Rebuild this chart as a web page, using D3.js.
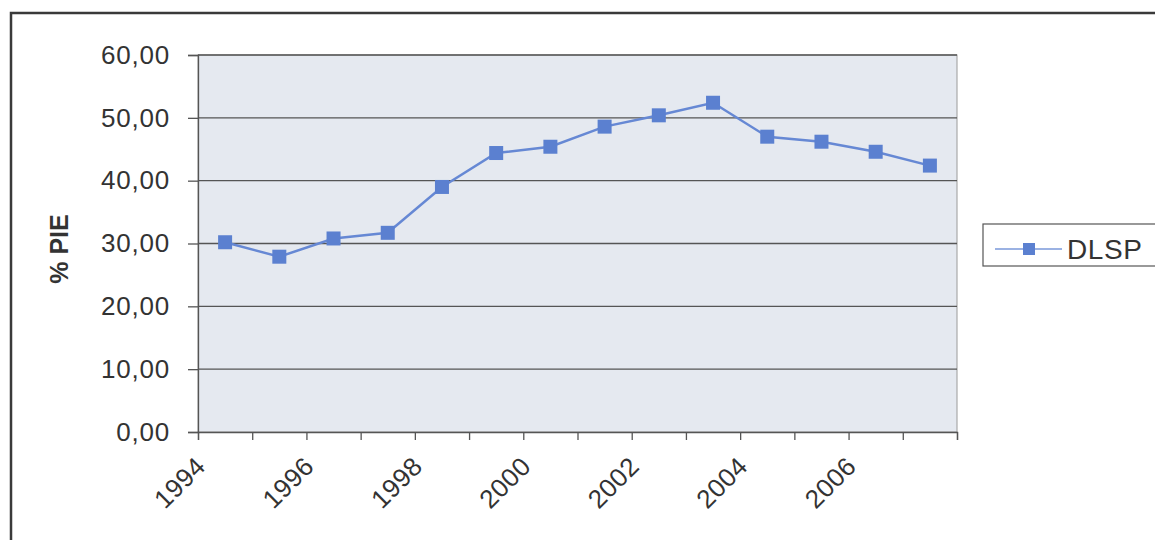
<!DOCTYPE html>
<html lang="en">
<head>
<meta charset="UTF-8">
<title>DLSP % PIE</title>
<script src="https://d3js.org/d3.v7.min.js"></script>
<style>
  body { margin: 0; background: #fff; }
  svg { display: block; font-family: "Liberation Sans", Arial, sans-serif; }
</style>
</head>
<body>
<svg width="1155" height="540"></svg>
<script>

// data
const years = [1994, 1995, 1996, 1997, 1998, 1999, 2000, 2001, 2002, 2003, 2004, 2005, 2006, 2007];
const dlsp = [30.2, 27.9, 30.8, 31.7, 39.0, 44.4, 45.4, 48.6, 50.4, 52.4, 47.0, 46.2, 44.6, 42.4];
const yTicks = [0, 10, 20, 30, 40, 50, 60];
const xLabels = [1994, 1996, 1998, 2000, 2002, 2004, 2006];
const seriesName = 'DLSP';

const svg = d3.select('svg');
const plotL = 198, plotR = 957, plotT = 55, plotB = 432;
const blue = '#5b80d0';

// outer chart frame (runs off the right and bottom edge)
svg.append('rect')
    .attr('x', 11).attr('y', 13).attr('width', 1200).attr('height', 600)
    .attr('fill', 'none').attr('stroke', '#3a3a3a').attr('stroke-width', 2.5);

const x = d3.scaleBand().domain(years).range([plotL, plotR]);
const y = d3.scaleLinear().domain([0, 60]).range([plotB, plotT]);

// plot area
svg.append('rect')
    .attr('x', plotL).attr('y', plotT).attr('width', plotR - plotL).attr('height', plotB - plotT)
    .attr('fill', '#e5e9f0').attr('stroke', '#9a9a9a').attr('stroke-width', 1);

// gridlines
svg.append('g').selectAll('line')
    .data(yTicks.filter(d => d > 0))
    .join('line')
    .attr('x1', plotL).attr('x2', plotR)
    .attr('y1', d => y(d)).attr('y2', d => y(d))
    .attr('stroke', '#555').attr('stroke-width', 1.3);

// y axis
const yAxis = d3.axisLeft(y).tickValues(yTicks).tickSize(10).tickPadding(18)
    .tickFormat(d => d.toFixed(2).replace('.', ','));
const yG = svg.append('g').attr('transform', `translate(${plotL},0)`).call(yAxis);
yG.select('.domain').attr('stroke', '#555').attr('stroke-width', 1.3);
yG.selectAll('.tick line').attr('stroke', '#555').attr('stroke-width', 1.3);
yG.selectAll('.tick text')
    .attr('font-size', 26).attr('fill', '#333').attr('letter-spacing', 0.8)
    .attr('font-family', '"Liberation Sans", Arial, sans-serif');

// x axis: ticks at category boundaries
const bounds = d3.scaleLinear().domain([0, years.length]).range([plotL, plotR]);
const xAxis = d3.axisBottom(bounds).tickValues(d3.range(years.length + 1)).tickSize(8).tickFormat('');
const xG = svg.append('g').attr('transform', `translate(0,${plotB})`).call(xAxis);
xG.select('.domain').attr('stroke', '#555').attr('stroke-width', 1.3);
xG.selectAll('.tick line').attr('stroke', '#555').attr('stroke-width', 1.3);

svg.append('g').selectAll('text')
    .data(xLabels)
    .join('text')
    .attr('transform', d => `translate(${x(d) + x.bandwidth() / 2 - 18},${plotB + 36}) rotate(-45)`)
    .attr('text-anchor', 'end')
    .attr('font-size', 26).attr('fill', '#333').attr('letter-spacing', 0.4)
    .text(d => d);

// y axis title
svg.append('text')
    .attr('transform', `translate(68,249) rotate(-90)`)
    .attr('text-anchor', 'middle')
    .attr('font-size', 25).attr('font-weight', 'bold').attr('fill', '#333')
    .text('% PIE');

// series
const line = d3.line().x((d, i) => x(years[i]) + x.bandwidth() / 2).y(d => y(d));
svg.append('path')
    .datum(dlsp)
    .attr('d', line)
    .attr('fill', 'none').attr('stroke', '#6688d4').attr('stroke-width', 2.5);

svg.append('g').selectAll('rect')
    .data(dlsp)
    .join('rect')
    .attr('x', (d, i) => x(years[i]) + x.bandwidth() / 2 - 7)
    .attr('y', d => y(d) - 7)
    .attr('width', 14).attr('height', 14)
    .attr('fill', blue);

// legend
const lg = svg.append('g');
lg.append('rect')
    .attr('x', 983).attr('y', 224).attr('width', 200).attr('height', 42)
    .attr('fill', '#fff').attr('stroke', '#555').attr('stroke-width', 1.2);
lg.append('line')
    .attr('x1', 995).attr('x2', 1062).attr('y1', 249).attr('y2', 249)
    .attr('stroke', '#7a98da').attr('stroke-width', 1.6);
lg.append('rect')
    .attr('x', 1023).attr('y', 243).attr('width', 12).attr('height', 12)
    .attr('fill', blue);
lg.append('text')
    .attr('x', 1067).attr('y', 259)
    .attr('font-size', 28).attr('fill', '#333').attr('letter-spacing', 0.6)
    .text(seriesName);

</script>
</body>
</html>
